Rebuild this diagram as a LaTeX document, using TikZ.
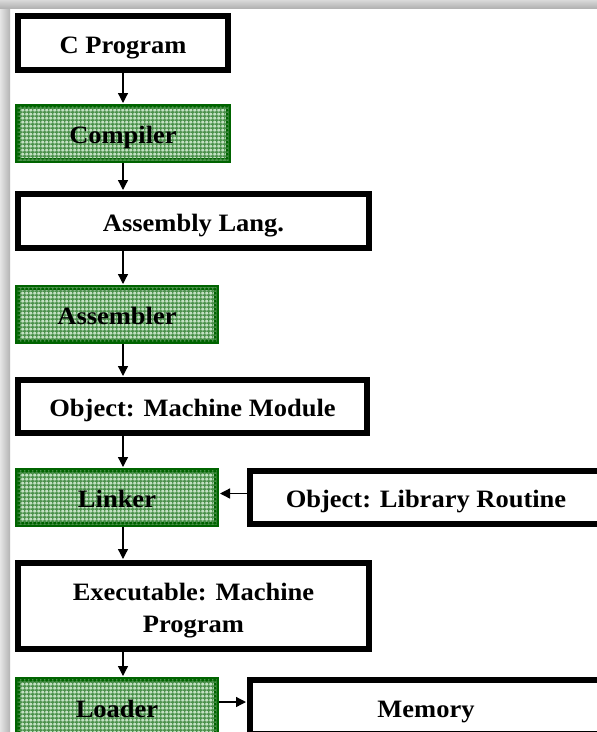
\documentclass[tikz,border=0pt]{standalone}
\usepackage{fontspec}
\setmainfont{Liberation Serif}[FakeStretch=1.06]
\usetikzlibrary{arrows.meta,patterns.meta}

\definecolor{boxgreen}{RGB}{0,100,0}
\definecolor{cellgreen}{RGB}{195,225,195}
\definecolor{gridgreen}{RGB}{75,145,75}

% fine square mesh used inside the processing stages
\tikzdeclarepattern{
  name=stagemesh, type=uncolored,
  bounding box={(0pt,0pt) and (3.8pt,3.8pt)},
  tile size={(3.8pt,3.8pt)},
  code={\draw[line width=1.4pt] (0pt,1.9pt) -- (3.8pt,1.9pt)
                                 (1.9pt,0pt) -- (1.9pt,3.8pt);}
}

\tikzset{
  lbl/.style={font=\bfseries\fontsize{25}{32}\selectfont, text=black, align=center,
    inner sep=0pt, text height=20pt, text depth=0pt},
  databox/.style={lbl, draw=black, line width=6pt, fill=white, rectangle},
  stagebox/.style={lbl, draw=boxgreen, line width=5pt, fill=cellgreen,
    postaction={pattern=stagemesh, pattern color=gridgreen}, rectangle},
  flow/.style={-{Triangle[length=10pt,width=10pt]}, line width=1.3pt, black, shorten >=1pt}
}

\begin{document}
\begin{tikzpicture}[x=1pt,y=-1pt]
\useasboundingbox (0,0) rectangle (597,732);
\fill[white] (0,0) rectangle (597,732);
% window shadow along the top and left edges
\shade[left color=gray!20, right color=gray!60] (0,0) rectangle (10,732);
\shade[top color=gray!30, bottom color=gray!60] (0,0) rectangle (597,8);
\clip (0,0) rectangle (597,732);

\node[databox, minimum width=210pt, minimum height=54pt]  (cprog)   at (123,43)    {C Program};
\node[stagebox, minimum width=211pt, minimum height=54pt] (comp)    at (123,133.5) {Compiler};
\node[databox, minimum width=351pt, minimum height=54pt]  (asml)    at (193.5,221) {Assembly Lang.};
\node[stagebox, minimum width=199pt, minimum height=54pt] (asmb)    at (117,314.5) {Assembler};
\node[databox, minimum width=349pt, minimum height=53pt]  (objmm)   at (192.5,406.5) {Object: Machine Module};
\node[stagebox, minimum width=199pt, minimum height=54pt] (linker)  at (117,497.5) {Linker};
\node[databox, minimum width=352pt, minimum height=53pt]  (libr)    at (426,497.5) {Object: Library Routine};
\node[databox, minimum width=351pt, minimum height=86pt, text height=52pt] (exec) at (193.5,606) {Executable: Machine\\Program};
\node[stagebox, minimum width=199pt, minimum height=55pt] (loader)  at (117,707)   {Loader};
\node[databox, minimum width=352pt, minimum height=54pt]  (mem)     at (426,707)   {Memory};

\draw[flow] (cprog.south -| 123,0)  -- (comp.north -| 123,0);
\draw[flow] (comp.south -| 123,0)   -- (asml.north -| 123,0);
\draw[flow] (asml.south -| 123,0)   -- (asmb.north -| 123,0);
\draw[flow] (asmb.south -| 123,0)   -- (objmm.north -| 123,0);
\draw[flow] (objmm.south -| 123,0)  -- (linker.north -| 123,0);
\draw[flow] (linker.south -| 123,0) -- (exec.north -| 123,0);
\draw[flow] (exec.south -| 123,0)   -- (loader.north -| 123,0);
\draw[flow] ([yshift=4pt]libr.west) -- ([yshift=4pt]linker.east);
\draw[flow] ([yshift=5pt]loader.east) -- ([yshift=5pt]mem.west);
\end{tikzpicture}
\end{document}
